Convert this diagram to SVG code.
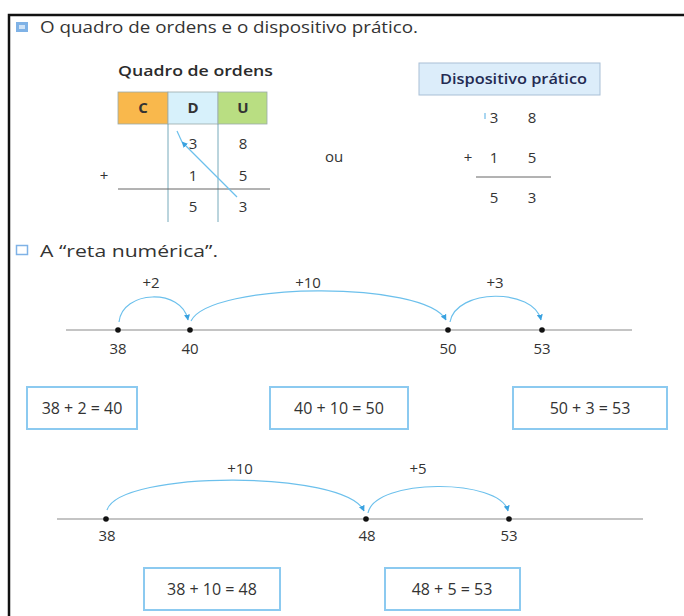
<svg xmlns="http://www.w3.org/2000/svg" width="684" height="616" viewBox="0 0 684 616">
<defs>
<style>
text{font-family:"Open Sans","Noto Sans","Liberation Sans",sans-serif;fill:#333}
.t{font-size:17px}
.n{font-size:15px;text-anchor:middle}
.b{font-size:16px;text-anchor:middle}
.box{fill:#fff;stroke:#8ccaf0;stroke-width:2}
.arc{fill:none;stroke:#6cc0ec;stroke-width:1.2}
.axis{stroke:#8a8a8a;stroke-width:1.2}
.grid{stroke:#666;stroke-width:1}
.dot{fill:#111}
</style>
<marker id="ah" viewBox="0 0 10 10" refX="9" refY="5" markerWidth="6" markerHeight="6" orient="auto" markerUnits="userSpaceOnUse">
<path d="M0,0 L10,5 L0,10 z" fill="#3aa2e0"/>
</marker>
</defs>
<rect x="0" y="0" width="684" height="616" fill="#fff"/>
<g id="frame">
<path d="M9,616 V15 H684" fill="none" stroke="#111" stroke-width="2.5"/>
</g>
<g id="title1">
<rect x="16" y="22" width="12" height="10" fill="#7fb2e6"/>
<rect x="19" y="25" width="6" height="4" fill="#cfe3f7"/>
<text class="t" x="40" y="33" textLength="378" lengthAdjust="spacingAndGlyphs">O quadro de ordens e o dispositivo prático.</text>
</g>
<g id="quadro">
<text x="118" y="76" font-size="15" font-weight="600" textLength="155" lengthAdjust="spacingAndGlyphs" style="fill:#2b2b2b">Quadro de ordens</text>
<rect x="118" y="92" width="50" height="32" fill="#f9b84c" stroke="#9aa" stroke-width="0.8"/>
<rect x="168" y="92" width="50" height="32" fill="#d7f1fb" stroke="#9aa" stroke-width="0.8"/>
<rect x="218" y="92" width="49" height="32" fill="#b9de82" stroke="#9aa" stroke-width="0.8"/>
<text x="143" y="113" font-size="15" font-weight="700" text-anchor="middle">C</text>
<text x="193" y="113" font-size="15" font-weight="700" text-anchor="middle">D</text>
<text x="243" y="113" font-size="15" font-weight="700" text-anchor="middle">U</text>
<line class="grid" x1="168" y1="124" x2="168" y2="222" style="stroke:#7ab"/>
<line class="grid" x1="218" y1="124" x2="218" y2="222" style="stroke:#7ab"/>
<line class="grid" x1="118" y1="189" x2="270" y2="189"/>
<text class="n" x="193" y="149">3</text>
<text class="n" x="243" y="149">8</text>
<text class="n" x="104" y="181">+</text>
<text class="n" x="193" y="181">1</text>
<text class="n" x="243" y="181">5</text>
<text class="n" x="193" y="212">5</text>
<text class="n" x="243" y="212">3</text>
</g>
<g id="ou">
<text class="n" x="334" y="162">ou</text>
</g>
<g id="dispositivo">
<rect x="419" y="63" width="181" height="32" fill="#dcedfa" stroke="#a9bfd6" stroke-width="1"/>
<text x="440" y="84" font-size="15" font-weight="600" textLength="147" lengthAdjust="spacingAndGlyphs" style="fill:#232a52">Dispositivo prático</text>
<text class="n" x="494" y="123">3</text>
<text class="n" x="532" y="123">8</text>
<text class="n" x="468" y="163">+</text>
<text class="n" x="494" y="163">1</text>
<text class="n" x="532" y="163">5</text>
<line class="grid" x1="476" y1="177" x2="551" y2="177"/>
<text class="n" x="494" y="203">5</text>
<text class="n" x="532" y="203">3</text>
<line x1="485" y1="113" x2="485" y2="119" stroke="#8cc8ec" stroke-width="1.5"/>
</g>
<g id="title2">
<rect x="16.5" y="245.5" width="11" height="9" fill="none" stroke="#7fb2e6" stroke-width="1.5"/>
<text class="t" x="40" y="257" textLength="178" lengthAdjust="spacingAndGlyphs">A “reta numérica”.</text>
</g>
<g id="line1">
<line class="axis" x1="66" y1="330" x2="632" y2="330"/>
<circle class="dot" cx="118" cy="330" r="2.8"/>
<circle class="dot" cx="190" cy="330" r="2.8"/>
<circle class="dot" cx="448" cy="330" r="2.8"/>
<circle class="dot" cx="542" cy="330" r="2.8"/>
<text class="n" x="118" y="354">38</text>
<text class="n" x="190" y="354">40</text>
<text class="n" x="448" y="354">50</text>
<text class="n" x="542" y="354">53</text>
<text class="n" x="151" y="288">+2</text>
<text class="n" x="308" y="288">+10</text>
<text class="n" x="495" y="288">+3</text>
</g>
<g id="line2">
<line class="axis" x1="57" y1="519" x2="643" y2="519"/>
<circle class="dot" cx="106" cy="519" r="2.8"/>
<circle class="dot" cx="366" cy="519" r="2.8"/>
<circle class="dot" cx="509" cy="519" r="2.8"/>
<text class="n" x="107" y="541">38</text>
<text class="n" x="367" y="541">48</text>
<text class="n" x="509" y="541">53</text>
<text class="n" x="240" y="474">+10</text>
<text class="n" x="418" y="474">+5</text>
</g>
<g id="connectors">
<path d="M237,197 L182,142" stroke="#6cc0ec" stroke-width="1.2" fill="none" marker-end="url(#ah)"/>
<path d="M182,142 L177,131" stroke="#6cc0ec" stroke-width="1.2" fill="none"/>
<path class="arc" d="M119,322 C122,290 182,288 188,320" marker-end="url(#ah)"/>
<path class="arc" d="M191,321 C210,282 425,280 446,320" marker-end="url(#ah)"/>
<path class="arc" d="M450,322 C456,288 534,288 541,320" marker-end="url(#ah)"/>
<path class="arc" d="M107,510 C120,470 345,470 364,511" marker-end="url(#ah)"/>
<path class="arc" d="M368,513 C375,478 500,478 508,511" marker-end="url(#ah)"/>
</g>
<g id="box1"><rect class="box" x="27" y="387" width="110" height="42"/><text class="b" x="82" y="414">38 + 2 = 40</text></g>
<g id="box2"><rect class="box" x="270" y="387" width="138" height="42"/><text class="b" x="339" y="414">40 + 10 = 50</text></g>
<g id="box3"><rect class="box" x="513" y="387" width="154" height="42"/><text class="b" x="590" y="414">50 + 3 = 53</text></g>
<g id="box4"><rect class="box" x="144" y="568" width="136" height="42"/><text class="b" x="212" y="595">38 + 10 = 48</text></g>
<g id="box5"><rect class="box" x="385" y="568" width="135" height="42"/><text class="b" x="452" y="595">48 + 5 = 53</text></g>
</svg>
